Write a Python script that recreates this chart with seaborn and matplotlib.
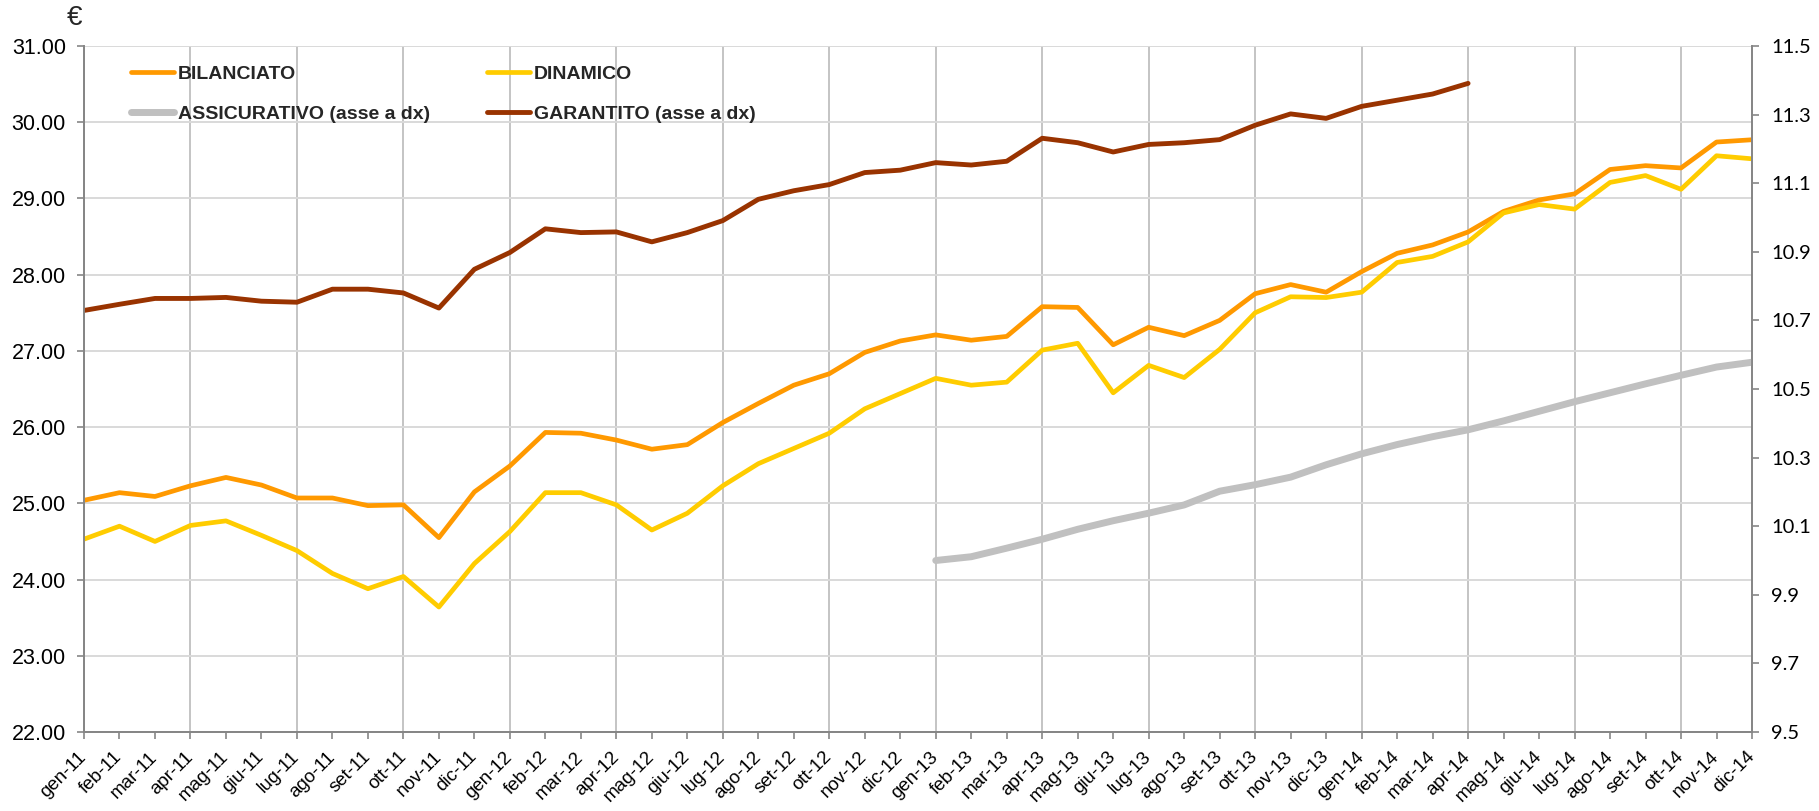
import numpy as np
import pandas as pd
import matplotlib
matplotlib.use("Agg")
import matplotlib.pyplot as plt
import seaborn as sns

# ---------------- data ----------------
month_labels = [
    "gen-11", "feb-11", "mar-11", "apr-11", "mag-11", "giu-11", "lug-11", "ago-11", "set-11", "ott-11", "nov-11", "dic-11",
    "gen-12", "feb-12", "mar-12", "apr-12", "mag-12", "giu-12", "lug-12", "ago-12", "set-12", "ott-12", "nov-12", "dic-12",
    "gen-13", "feb-13", "mar-13", "apr-13", "mag-13", "giu-13", "lug-13", "ago-13", "set-13", "ott-13", "nov-13", "dic-13",
    "gen-14", "feb-14", "mar-14", "apr-14", "mag-14", "giu-14", "lug-14", "ago-14", "set-14", "ott-14", "nov-14", "dic-14",
]

bilanciato = [
    25.04, 25.14, 25.09, 25.23, 25.34, 25.24, 25.07, 25.07, 24.97, 24.98, 24.55, 25.15,
    25.49, 25.93, 25.92, 25.83, 25.71, 25.77, 26.06, 26.31, 26.55, 26.70, 26.98, 27.13,
    27.21, 27.14, 27.19, 27.58, 27.57, 27.08, 27.31, 27.20, 27.40, 27.75, 27.87, 27.77,
    28.04, 28.28, 28.39, 28.56, 28.83, 28.98, 29.06, 29.38, 29.43, 29.40, 29.74, 29.77,
]

dinamico = [
    24.53, 24.70, 24.50, 24.71, 24.77, 24.58, 24.38, 24.08, 23.88, 24.04, 23.64, 24.21,
    24.63, 25.14, 25.14, 24.98, 24.65, 24.87, 25.23, 25.52, 25.72, 25.92, 26.24, 26.44,
    26.64, 26.55, 26.59, 27.01, 27.10, 26.45, 26.81, 26.65, 27.02, 27.50, 27.71, 27.70,
    27.77, 28.16, 28.24, 28.43, 28.81, 28.92, 28.86, 29.21, 29.30, 29.12, 29.56, 29.52,
]

# right axis, starts gen-13
assicurativo = [
    10.000, 10.011, 10.036, 10.062, 10.091, 10.116, 10.138, 10.162, 10.202, 10.221, 10.243, 10.279,
    10.311, 10.338, 10.361, 10.381, 10.407, 10.435, 10.463, 10.489, 10.515, 10.540, 10.564, 10.578,
]

# right axis, ends apr-14
garantito = [
    10.729, 10.747, 10.764, 10.764, 10.767, 10.756, 10.753, 10.791, 10.791, 10.780, 10.736, 10.849,
    10.898, 10.967, 10.956, 10.958, 10.929, 10.956, 10.991, 11.053, 11.078, 11.096, 11.131, 11.138,
    11.160, 11.153, 11.164, 11.231, 11.218, 11.191, 11.213, 11.218, 11.227, 11.269, 11.302, 11.289,
    11.324, 11.342, 11.360, 11.391,
]

left_ticks = [22, 23, 24, 25, 26, 27, 28, 29, 30, 31]
right_ticks = [9.5, 9.7, 9.9, 10.1, 10.3, 10.5, 10.7, 10.9, 11.1, 11.3, 11.5]

# ---------------- style ----------------
sns.set_style("white")
plt.rcParams["font.family"] = ["Liberation Sans", "DejaVu Sans"]

W, H = 1819, 811
fig = plt.figure(figsize=(W / 100, H / 100), dpi=100)
ax = fig.add_axes([84 / W, 1 - 732 / H, (1752 - 84) / W, 686 / H])
ax2 = ax.twinx()

n = len(month_labels)
xi = np.arange(n)
df_left = pd.DataFrame({"x": xi, "BILANCIATO": bilanciato, "DINAMICO": dinamico})
a0 = n - len(assicurativo)
df_ass = pd.DataFrame({"x": xi[a0:], "v": assicurativo})
df_gar = pd.DataFrame({"x": xi[:len(garantito)], "v": garantito})

C_BIL = "#FF9900"
C_DIN = "#FFCC00"
C_ASS = "#C0C0C0"
C_GAR = "#993300"

lkw = dict(solid_joinstyle="round", solid_capstyle="round")
sns.lineplot(data=df_left, x="x", y="BILANCIATO", ax=ax, color=C_BIL, lw=3.4,
             label="BILANCIATO", legend=False, **lkw)
sns.lineplot(data=df_left, x="x", y="DINAMICO", ax=ax, color=C_DIN, lw=3.4,
             label="DINAMICO", legend=False, **lkw)
sns.lineplot(data=df_ass, x="x", y="v", ax=ax2, color=C_ASS, lw=5.0,
             label="ASSICURATIVO (asse a dx)", legend=False, **lkw)
sns.lineplot(data=df_gar, x="x", y="v", ax=ax2, color=C_GAR, lw=3.5,
             label="GARANTITO (asse a dx)", legend=False, **lkw)

# ---------------- axes ----------------
ax.set_xlim(0, n - 1)
ax.set_ylim(left_ticks[0], left_ticks[-1])
ax2.set_ylim(right_ticks[0], right_ticks[-1])

ax.set_xlabel("")
ax.set_ylabel("")
ax2.set_xlabel("")
ax2.set_ylabel("")

ax.set_yticks(left_ticks)
ax.set_yticklabels([f"{v:.2f}" for v in left_ticks], fontsize=15.5)
ax2.set_yticks(right_ticks)
ax2.set_yticklabels([f"{v:.1f}" for v in right_ticks], fontsize=14.5,
                    family=["Lato", "DejaVu Sans"])

ax.set_xticks(xi)
ax.set_xticklabels(month_labels, rotation=45, ha="right", va="center",
                   rotation_mode="anchor", fontsize=13.5)
ax.set_xticks(xi[::3], minor=True)
ax.xaxis.remove_overlapping_locs = False

ax.grid(False)
ax2.grid(False)
ax.xaxis.grid(True, which="minor", color="#BFBFBF", lw=1.3)
ax.yaxis.grid(True, which="major", color="#D9D9D9", lw=1.4)
ax.set_axisbelow(True)

spine_c = "#868686"
ax.spines["top"].set_visible(False)
ax2.spines["top"].set_visible(False)
for a in (ax, ax2):
    for s in ["left", "right", "bottom"]:
        a.spines[s].set_color(spine_c)
        a.spines[s].set_linewidth(1.3)

ax.tick_params(axis="y", which="major", direction="out", length=5, width=1.2,
               color=spine_c, pad=8, labelcolor="black", left=True)
ax.tick_params(axis="x", which="major", direction="out", length=5, width=1.2,
               color=spine_c, pad=11, labelcolor="black", bottom=True)
ax.tick_params(axis="x", which="minor", length=0)
ax2.tick_params(axis="y", which="major", direction="out", length=5, width=1.2,
                color=spine_c, pad=9, labelcolor="black", right=True)

# ---------------- legend ----------------
h1, l1 = ax.get_legend_handles_labels()
h2, l2 = ax2.get_legend_handles_labels()
handles = [h1[0], h2[0], h1[1], h2[1]]
labels = [l1[0], l2[0], l1[1], l2[1]]
leg = fig.legend(handles, labels, ncol=2, loc="upper left",
                 bbox_to_anchor=(131 / W, 1 - 65 / H),
                 frameon=False, borderpad=0, borderaxespad=0,
                 handlelength=2.2, handletextpad=0.2, columnspacing=2.95,
                 labelspacing=1.15,
                 prop={"family": ["Liberation Sans", "DejaVu Sans"],
                       "weight": "bold", "size": 14})

fig.text(75 / W, 1 - 18 / H, "€", ha="center", va="center", fontsize=20)

fig.savefig("out.png", dpi=100)
